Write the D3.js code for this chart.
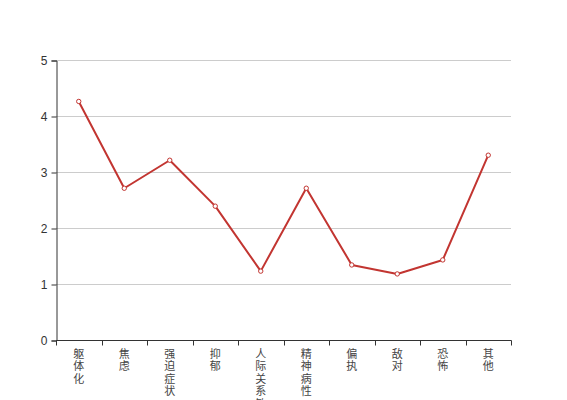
<!DOCTYPE html>
<html>
<head>
<meta charset="utf-8">
<script src="https://cdn.jsdelivr.net/npm/d3@7"></script>
<style>
  body { margin: 0; background: #fff; }
  text { font-family: "Noto Sans CJK SC", "DejaVu Sans", sans-serif; }
</style>
</head>
<body>
<svg id="plot1" width="567" height="400"></svg>
<script>
// categories and scores
var categories = ["躯体化", "焦虑", "强迫症状", "抑郁", "人际关系敏感", "精神病性", "偏执", "敌对", "恐怖", "其他"];
var scores = [4.26, 2.71, 3.21, 2.39, 1.23, 2.71, 1.34, 1.18, 1.43, 3.30];
var yTicks = [0, 1, 2, 3, 4, 5];

var svg = d3.select("#plot1"),
    margin = {top: 60, right: 56, bottom: 60, left: 56},
    width = +svg.attr("width") - margin.left - margin.right,
    height = +svg.attr("height") - margin.top - margin.bottom;

var x = d3.scaleBand().domain(categories).range([0, width]).paddingInner(0).paddingOuter(0),
    y = d3.scaleLinear().domain([0, 5]).range([height, 0]);

var g = svg.append("g")
    .attr("transform", "translate(" + margin.left + "," + margin.top + ")");

// horizontal grid lines
g.selectAll(".grid")
    .data(yTicks.filter(function(d){ return d > 0; }))
    .enter()
    .append("line")
    .attr("class", "grid")
    .attr("x1", 0)
    .attr("x2", width)
    .attr("y1", function(d){ return y(d) + 0.5; })
    .attr("y2", function(d){ return y(d) + 0.5; })
    .attr("stroke", "#ccc")
    .attr("stroke-width", 1);

// y axis
var yAxis = g.append("g")
    .attr("transform", "translate(0.5,0.5)")
    .call(d3.axisLeft(y).tickValues(yTicks).tickFormat(d3.format("d")).tickSize(5).tickPadding(4));
yAxis.select(".domain").attr("stroke", "#333");
yAxis.selectAll(".tick line").attr("stroke", "#333");
yAxis.selectAll("text").attr("fill", "#333").style("font-size", "12px").style("font-family", "'Liberation Sans', Arial, sans-serif");

// x axis: ticks on band boundaries, labels stacked vertically
var bounds = categories.map(function(c){ return x(c); }).concat([width]);
var xAxis = g.append("g").attr("transform", "translate(0," + (height + 0.5) + ")");
xAxis.append("line")
    .attr("x1", 0).attr("x2", width + 0.5)
    .attr("stroke", "#333");
xAxis.selectAll(".xtick")
    .data(bounds)
    .enter()
    .append("line")
    .attr("class", "xtick")
    .attr("x1", function(d){ return Math.round(d) + 0.5; })
    .attr("x2", function(d){ return Math.round(d) + 0.5; })
    .attr("y1", 0)
    .attr("y2", 5)
    .attr("stroke", "#333");

var labels = xAxis.selectAll(".xlabel")
    .data(categories)
    .enter()
    .append("text")
    .attr("class", "xlabel")
    .attr("text-anchor", "middle")
    .attr("fill", "#444")
    .style("font-size", "11px");
labels.each(function(d){
    var t = d3.select(this),
        cx = x(d) + x.bandwidth() / 2;
    d.split("").forEach(function(ch, i){
        t.append("tspan")
            .attr("x", cx)
            .attr("y", 17 + i * 12.5)
            .text(ch);
    });
});

// line
var line = d3.line()
    .x(function(d, i){ return x(categories[i]) + x.bandwidth() / 2; })
    .y(function(d){ return y(d); });

g.append("path")
    .datum(scores)
    .attr("fill", "none")
    .attr("stroke", "#c23531")
    .attr("stroke-width", 2)
    .attr("stroke-linejoin", "round")
    .attr("d", line);

g.selectAll(".pt")
    .data(scores)
    .enter()
    .append("circle")
    .attr("class", "pt")
    .attr("cx", function(d, i){ return x(categories[i]) + x.bandwidth() / 2; })
    .attr("cy", function(d){ return y(d); })
    .attr("r", 2.2)
    .attr("fill", "#fff")
    .attr("stroke", "#c23531")
    .attr("stroke-width", 1);
</script>
</body>
</html>
